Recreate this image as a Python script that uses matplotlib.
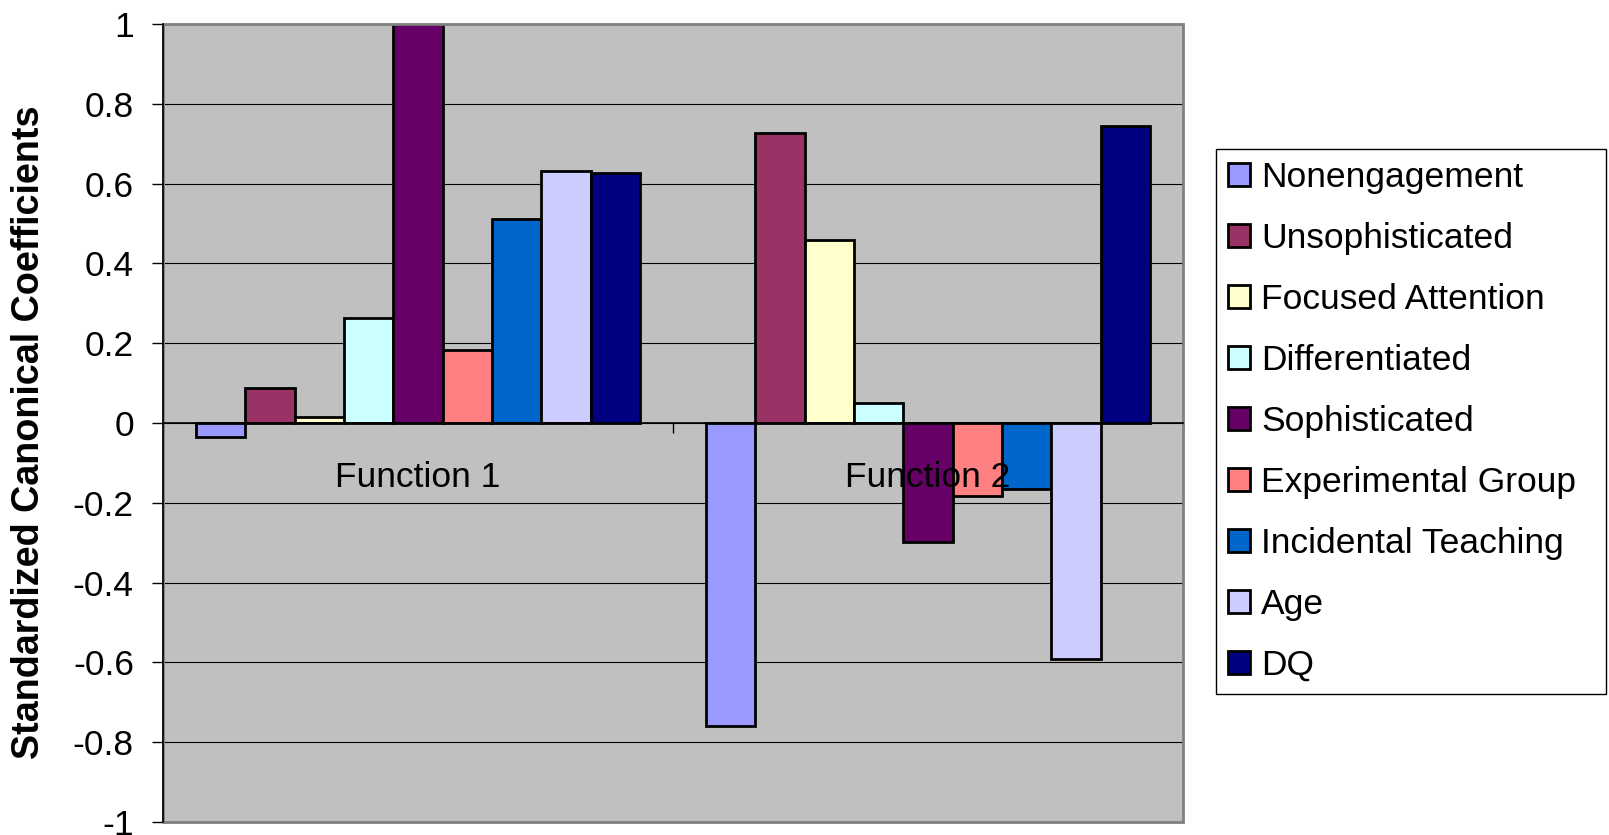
import numpy as np
import matplotlib
matplotlib.use("Agg")
import matplotlib.pyplot as plt
from matplotlib.patches import Rectangle
from matplotlib.ticker import FixedLocator, FuncFormatter

functions = ["Function 1", "Function 2"]
variables = ["Nonengagement", "Unsophisticated", "Focused Attention",
             "Differentiated", "Sophisticated", "Experimental Group",
             "Incidental Teaching", "Age", "DQ"]
function1 = [-0.035, 0.088, 0.016, 0.263, 1.0, 0.183, 0.511, 0.632, 0.627]
function2 = [-0.759, 0.728, 0.459, 0.049, -0.299, -0.182, -0.166, -0.591, 0.744]
colors = ["#9999FF", "#993366", "#FFFFCC", "#CCFFFF", "#660066",
          "#FF8080", "#0066CC", "#CCCCFF", "#000080"]

plt.rcParams["font.family"] = ["Liberation Sans", "DejaVu Sans"]
fs = 25.5

fig = plt.figure(figsize=(16.09, 8.35), dpi=100)
ax = fig.add_axes([163 / 1609, 13 / 835, 1020 / 1609, 798 / 835])
ax.set_facecolor("#C0C0C0")

coefs = np.array([function1, function2]).T  # rows: variables, cols: functions
x = np.arange(len(functions))
w = 0.0967
for i, (name, col) in enumerate(zip(variables, colors)):
    ax.bar(x + (i - (len(variables) - 1) / 2) * w, coefs[i], w,
           color=col, edgecolor="black", linewidth=2, label=name, zorder=2)


def ylab(v, pos):
    return f"{round(v, 1) + 0.0:g}"


ax.set_xlim(-0.5, 1.5)
ax.set_ylim(-1, 1)
ax.set_yticks(np.round(np.arange(-1, 1.01, 0.2), 1))
ax.yaxis.set_major_formatter(FuncFormatter(ylab))
ax.tick_params(axis="y", direction="out", length=8, width=1, pad=13, labelsize=fs)
ax.set_axisbelow(True)
ax.grid(axis="y", color="black", linewidth=0.8)

# category axis sits on the zero line
for s in ["top", "right"]:
    ax.spines[s].set_visible(False)
ax.spines["bottom"].set_position(("data", 0))
ax.spines["bottom"].set_color("black")
ax.spines["bottom"].set_linewidth(1.2)
ax.spines["left"].set_color("black")
ax.spines["left"].set_linewidth(1.2)
ax.set_xticks(x)
ax.xaxis.set_minor_locator(FixedLocator([-0.5, 0.5, 1.5]))
ax.tick_params(axis="x", which="major", length=0, labelbottom=False)
ax.tick_params(axis="x", which="minor", direction="out", length=7, width=1)
for xi, name in zip(x, functions):
    ax.annotate(name, xy=(xi, 0), xytext=(0, -27.5), textcoords="offset points",
                ha="center", va="top", fontsize=fs, zorder=5)

ax.add_patch(Rectangle((0, 0), 1, 1, transform=ax.transAxes, fill=False,
                       edgecolor="#808080", linewidth=2, zorder=2.4, clip_on=False))

fig.text(29 / 1609, 1 - 432 / 835, "Standardized Canonical Coefficients",
         rotation=90, ha="center", va="center", fontsize=27.2, fontweight="bold")

leg = ax.legend(loc="center left", bbox_to_anchor=(1216 / 1609, 1 - 696 / 835, 390 / 1609, 549 / 835),
                bbox_transform=fig.transFigure, mode="expand", borderaxespad=0,
                fontsize=fs, handlelength=0.63, handleheight=0.63, handletextpad=0.32,
                labelspacing=0.79, borderpad=0.33, fancybox=False, framealpha=1)
leg.get_frame().set_edgecolor("black")
leg.get_frame().set_linewidth(1)

fig.savefig("out.png", dpi=100)
